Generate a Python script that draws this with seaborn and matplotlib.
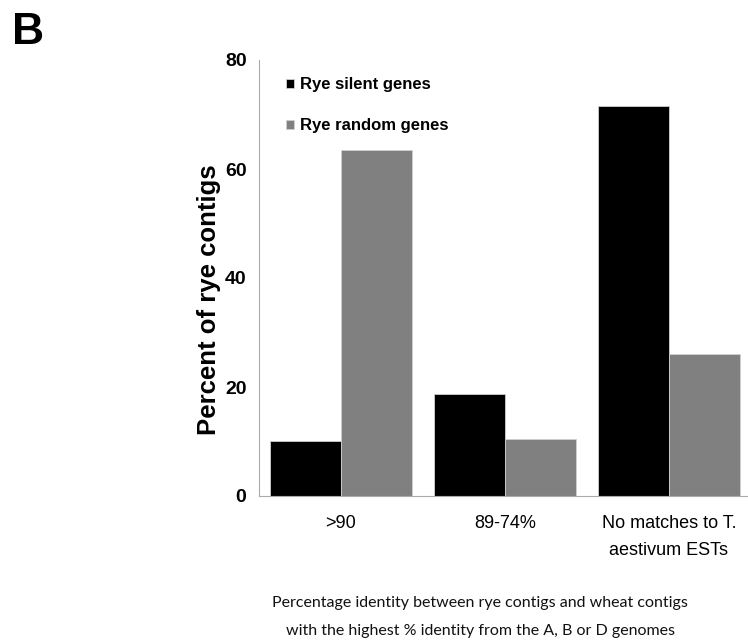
import numpy as np
import pandas as pd
import matplotlib
matplotlib.use("Agg")
import matplotlib.pyplot as plt
import seaborn as sns

# ===== data =====
categories = [">90", "89-74%", "No matches to T.\naestivum ESTs"]
series_names = ["Rye silent genes", "Rye random genes"]
silent_vals = [10.1, 18.7, 71.6]
random_vals = [63.4, 10.5, 26.1]
y_ticks = [0, 20, 40, 60, 80]

df = pd.DataFrame({
    "category": categories * 2,
    "series": [series_names[0]] * 3 + [series_names[1]] * 3,
    "value": silent_vals + random_vals,
})

sns.set_style("white")
plt.rcParams["font.family"] = ["Liberation Sans", "DejaVu Sans"]
plt.rcParams["text.color"] = "black"
plt.rcParams["xtick.color"] = "black"
plt.rcParams["ytick.color"] = "black"

fig = plt.figure(figsize=(7.48, 6.42), dpi=100)
ax = fig.add_axes([259 / 748, 1 - 496 / 642, (751 - 259) / 748, (496 - 60) / 642])

sns.barplot(
    data=df, x="category", y="value", hue="series",
    palette=["#000000", "#808080"], width=0.866,
    edgecolor="#d0d0d0", linewidth=0.6, ax=ax, legend=True,
)

ax.set_xlim(-0.5, 2.5)
ax.set_ylim(0, 80)
ax.set_yticks(y_ticks)
ax.set_yticklabels([str(v) for v in y_ticks], fontweight="bold", fontsize=14)

# category boundary ticks
ax.set_xticks(np.arange(-0.5, 3.0, 1.0), minor=True)
ax.set_xticks(range(len(categories)))
ax.set_xticklabels(categories, fontsize=13, linespacing=1.75)
ax.tick_params(axis="x", which="major", length=0, pad=14, labelcolor="black")
ax.tick_params(axis="x", which="minor", length=6, width=0.8, color="#999999", direction="out")
ax.tick_params(axis="y", length=4, width=0.8, color="#999999", direction="out", pad=5,
               labelcolor="black")

for side in ["top", "right"]:
    ax.spines[side].set_visible(False)
for side in ["left", "bottom"]:
    ax.spines[side].set_color("#aaaaaa")
    ax.spines[side].set_linewidth(0.8)

ax.set_xlabel("")
ax.set_ylabel("")
fig.text(209 / 748, 1 - 300 / 642, "Percent of rye contigs", rotation=90,
         ha="center", va="center", fontsize=18.5, fontweight="bold")

leg = ax.legend(
    loc="upper left", bbox_to_anchor=(0.025, 0.995), frameon=False,
    prop={"weight": "bold", "size": 12},
    handlelength=0.45, handleheight=0.45, handletextpad=0.35, labelspacing=1.55,
)

fig.text(480 / 748, 1 - 617 / 642,
         "Percentage identity between rye contigs and wheat contigs\nwith the highest % identity from the A, B or D genomes",
         ha="center", va="center", fontsize=11.5, family=["Lato", "DejaVu Sans"], linespacing=2.25,
         color="#111111")

fig.text(12 / 748, 1 - 32 / 642, "B", fontsize=32, fontweight="bold", ha="left", va="center")

fig.savefig("out.png", dpi=100)
